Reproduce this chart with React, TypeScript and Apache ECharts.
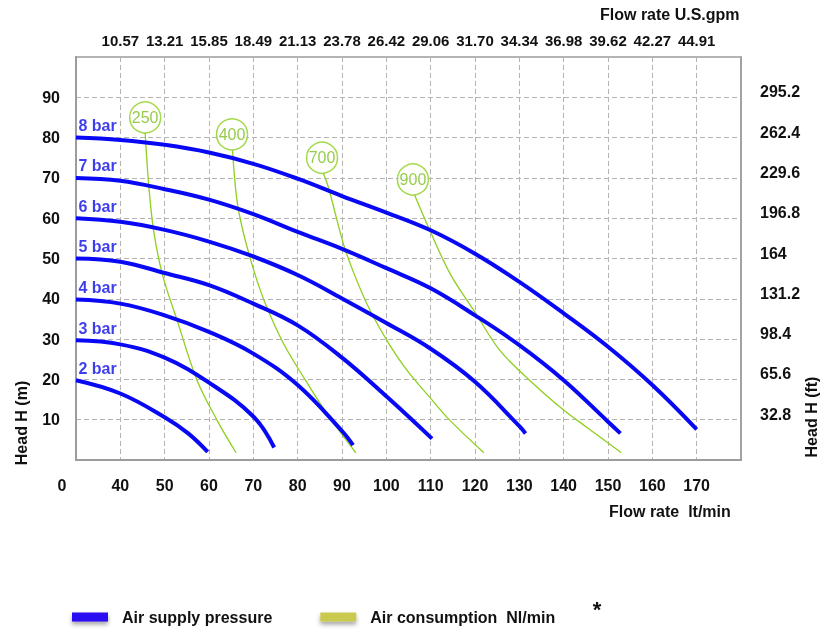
import React, { useEffect, useRef } from 'react';
import * as echarts from 'echarts';

const FONT = '"Liberation Sans", Arial, Helvetica, sans-serif';

// Top axis tick labels (U.S. gpm) for the lt/min ticks 40..170
const TOP_LABELS = ['10.57', '13.21', '15.85', '18.49', '21.13', '23.78', '26.42', '29.06', '31.70', '34.34', '36.98', '39.62', '42.27', '44.91'];
// Right axis tick labels (ft) for 10..90 m
const RIGHT_LABELS = ['32.8', '65.6', '98.4', '131.2', '164', '196.8', '229.6', '262.4', '295.2'];

// Air supply pressure curves [flow, head]
const BAR_NAMES = ['8 bar', '7 bar', '6 bar', '5 bar', '4 bar', '3 bar', '2 bar'];
const BAR_8 = [[30, 80], [40, 79.4], [50, 78.2], [60, 76.3], [70, 73.5], [80, 69.8], [90, 65.5], [100, 61.4], [110, 57.0], [120, 51.2], [130, 44.2], [140, 36.4], [150, 28.1], [160, 18.6], [170, 7.6]];
const BAR_7 = [[30, 70], [40, 69.3], [50, 67.2], [60, 64.6], [70, 61.0], [80, 56.6], [90, 52.4], [100, 47.6], [110, 42.6], [120, 35.9], [130, 28.5], [140, 19.8], [150, 9.5], [152.8, 6.6]];
const BAR_6 = [[30, 60], [40, 59.1], [50, 57.1], [60, 54.2], [70, 50.5], [80, 45.9], [90, 40.1], [100, 34.0], [110, 27.6], [120, 19.4], [130, 8.4], [131.4, 6.6]];
const BAR_5 = [[30, 50], [40, 49.2], [50, 46.4], [60, 43.4], [70, 38.8], [80, 33.4], [90, 25.4], [100, 15.8], [110.3, 5.3]];
const BAR_4 = [[30, 39.8], [40, 38.8], [50, 35.9], [60, 31.8], [70, 26.4], [80, 18.6], [90, 7.2], [92.5, 3.7]];
const BAR_3 = [[30, 29.7], [40, 28.7], [50, 25.4], [60, 19.2], [70, 10.8], [74.7, 3.1]];
const BAR_2 = [[30, 19.8], [40, 16.5], [50, 10.6], [55.3, 6.6], [59.7, 2.0]];
const BAR_DATA = [BAR_8, BAR_7, BAR_6, BAR_5, BAR_4, BAR_3, BAR_2];

// Air consumption curves (Nl/min) [flow, head]
const AIR_NAMES = ['250', '400', '700', '900'];
const AIR_250 = [[45.6, 81.2], [46.4, 68.2], [47.5, 57.0], [49.5, 46.0], [52.8, 34.7], [57.3, 19.8], [61.8, 9.9], [66.1, 1.8]];
const AIR_400 = [[65.3, 76.9], [66.3, 64.5], [67.8, 56.2], [70.4, 46.0], [73.0, 38.0], [76.8, 28.9], [81.3, 20.6], [86.6, 11.5], [93.1, 1.8]];
const AIR_700 = [[85.8, 71.1], [86.9, 67.8], [90.3, 53.7], [92.8, 46.0], [96.3, 37.2], [100.5, 29.0], [104.5, 22.5], [110, 15.3], [114.3, 9.9], [122, 1.8]];
const AIR_900 = [[106.4, 65.7], [109.8, 57.0], [114.5, 46.0], [120, 36.7], [125.6, 27.2], [133.1, 19.0], [140, 12.4], [145.1, 8.2], [153, 1.8]];
const AIR_DATA = [AIR_250, AIR_400, AIR_700, AIR_900];
const AIR_LABEL_POS = [[45.6, 85.0], [65.2, 80.8], [85.5, 75.0], [106.0, 69.6]];

const BLUE = '#0808f4';
const GREEN = '#8fcf1f';
const LEGEND_BLUE = '#2a0cf0';
const LEGEND_YELLOW = '#c9c950';
const PRESSURE = 'Air supply pressure';
const CONSUMPTION = 'Air consumption  Nl/min';

export default function App() {
  const ref = useRef<HTMLDivElement>(null);

  useEffect(() => {
    if (!ref.current) return;
    const chart = echarts.init(ref.current, null, { renderer: 'svg' });

    const airSeries = AIR_DATA.map((d) => ({
      type: 'line',
      name: CONSUMPTION,
      data: d,
      smooth: 0.35,
      showSymbol: false,
      silent: true,
      z: 2,
      itemStyle: { color: GREEN },
      lineStyle: { color: GREEN, width: 1.3 },
    }));

    const barSeries = BAR_DATA.map((d) => ({
      type: 'line',
      name: PRESSURE,
      data: d,
      smooth: 0.4,
      showSymbol: false,
      silent: true,
      z: 3,
      itemStyle: { color: BLUE },
      lineStyle: { color: BLUE, width: 4 },
    }));

    const option: any = {
      animation: false,
      textStyle: { fontFamily: FONT },
      grid: {
        left: 76, right: 91, top: 57, bottom: 173,
        show: true, borderColor: '#9c9c9c', borderWidth: 1.5, backgroundColor: 'transparent',
      },
      legend: {
        left: 72,
        top: 609,
        padding: 0,
        icon: 'rect',
        itemWidth: 36,
        itemHeight: 9,
        itemGap: 48,
        selectedMode: false,
        textStyle: { fontFamily: FONT, fontSize: 16, fontWeight: 'bold', color: '#111', padding: [0, 0, 0, 9] },
        data: [
          { name: PRESSURE, itemStyle: { color: LEGEND_BLUE, shadowBlur: 4, shadowOffsetY: 3, shadowColor: 'rgba(0,0,0,0.35)' } },
          { name: CONSUMPTION, itemStyle: { color: LEGEND_YELLOW, shadowBlur: 4, shadowOffsetY: 3, shadowColor: 'rgba(0,0,0,0.35)' } },
        ],
      },
      xAxis: [
        {
          type: 'value', position: 'bottom', min: 30, max: 180, interval: 10,
          axisLine: { show: true, lineStyle: { color: '#9c9c9c', width: 2 } },
          axisTick: { show: false },
          splitLine: { show: true, lineStyle: { color: '#b4b4b4', width: 1, type: [5, 3] } },
          axisLabel: {
            margin: 17,
            fontFamily: FONT, fontSize: 16, fontWeight: 'bold', color: '#111',
            formatter: (v: number) => (v === 30 ? '{z|0}' : v >= 40 && v <= 170 ? String(v) : ''),
            rich: { z: { fontFamily: FONT, fontSize: 16, fontWeight: 'bold', color: '#111', padding: [0, 28, 0, 0] } },
          },
        },
        {
          type: 'value', position: 'top', min: 30, max: 180, interval: 10,
          axisLine: { show: true, lineStyle: { color: '#9c9c9c', width: 1.5 } },
          axisTick: { show: false },
          splitLine: { show: false },
          axisLabel: {
            margin: 9,
            fontFamily: FONT, fontSize: 15, fontWeight: 'bold', color: '#111',
            formatter: (v: number) => {
              const i = Math.round((v - 40) / 10);
              return i >= 0 && i < TOP_LABELS.length ? TOP_LABELS[i] : '';
            },
          },
        },
      ],
      yAxis: [
        {
          type: 'value', position: 'left', min: 0, max: 100, interval: 10,
          axisLine: { show: true, lineStyle: { color: '#9c9c9c', width: 2 } },
          axisTick: { show: false },
          splitLine: { show: true, lineStyle: { color: '#b4b4b4', width: 1, type: [5, 3] } },
          axisLabel: {
            margin: 16,
            fontFamily: FONT, fontSize: 16, fontWeight: 'bold', color: '#111',
            formatter: (v: number) => (v > 0 && v < 100 ? String(v) : ''),
          },
        },
        {
          type: 'value', position: 'right', min: 0, max: 100, interval: 10,
          axisLine: { show: true, lineStyle: { color: '#9c9c9c', width: 1.5 } },
          axisTick: { show: false },
          splitLine: { show: false },
          axisLabel: {
            margin: 19,
            formatter: (v: number) => {
              const i = Math.round(v / 10) - 1;
              return i >= 0 && i < RIGHT_LABELS.length ? '{r|' + RIGHT_LABELS[i] + '}' : '';
            },
            rich: { r: { fontFamily: FONT, fontSize: 16, fontWeight: 'bold', color: '#111', padding: [0, 0, 11, 0] } },
          },
        },
      ],
      series: [
        ...airSeries,
        ...barSeries,
        {
          type: 'scatter',
          name: 'air labels',
          data: AIR_LABEL_POS.map((p, i) => [p[0], p[1], AIR_NAMES[i]]),
          symbol: 'circle',
          symbolSize: 31,
          silent: true,
          z: 5,
          itemStyle: { color: '#ffffff', borderColor: GREEN, borderWidth: 1.5 },
          label: {
            show: true, position: 'inside',
            formatter: (p: any) => p.value[2],
            fontFamily: FONT, fontSize: 16, color: '#7cbf1c',
          },
        },
        {
          type: 'scatter',
          name: 'bar labels',
          data: BAR_DATA.map((d, i) => [d[0][0], d[0][1], BAR_NAMES[i]]),
          symbolSize: 1,
          silent: true,
          z: 5,
          itemStyle: { color: 'transparent' },
          label: {
            show: true, position: 'right', distance: 0, offset: [2, -12],
            formatter: (p: any) => p.value[2],
            fontFamily: FONT, fontSize: 16, fontWeight: 'bold', color: '#0c0cea',
          },
        },
      ],
      graphic: [
        { type: 'text', x: 600, y: 14, style: { text: 'Flow rate U.S.gpm', font: `bold 16px ${FONT}`, fill: '#111', align: 'left', verticalAlign: 'middle' } },
        { type: 'text', x: 609, y: 511, style: { text: 'Flow rate  lt/min', font: `bold 16px ${FONT}`, fill: '#111', align: 'left', verticalAlign: 'middle' } },
        { type: 'text', x: 21, y: 423, rotation: Math.PI / 2, style: { text: 'Head H (m)', font: `bold 16px ${FONT}`, fill: '#111', align: 'center', verticalAlign: 'middle' } },
        { type: 'text', x: 811, y: 417, rotation: Math.PI / 2, style: { text: 'Head H (ft)', font: `bold 16px ${FONT}`, fill: '#111', align: 'center', verticalAlign: 'middle' } },
        { type: 'text', x: 597, y: 609, style: { text: '*', font: `bold 22px ${FONT}`, fill: '#111', align: 'center', verticalAlign: 'middle' } },
      ],
    };

    chart.setOption(option);
    return () => chart.dispose();
  }, []);

  return <div ref={ref} style={{ position: 'fixed', left: 0, top: 0, width: 832, height: 633 }} />;
}
